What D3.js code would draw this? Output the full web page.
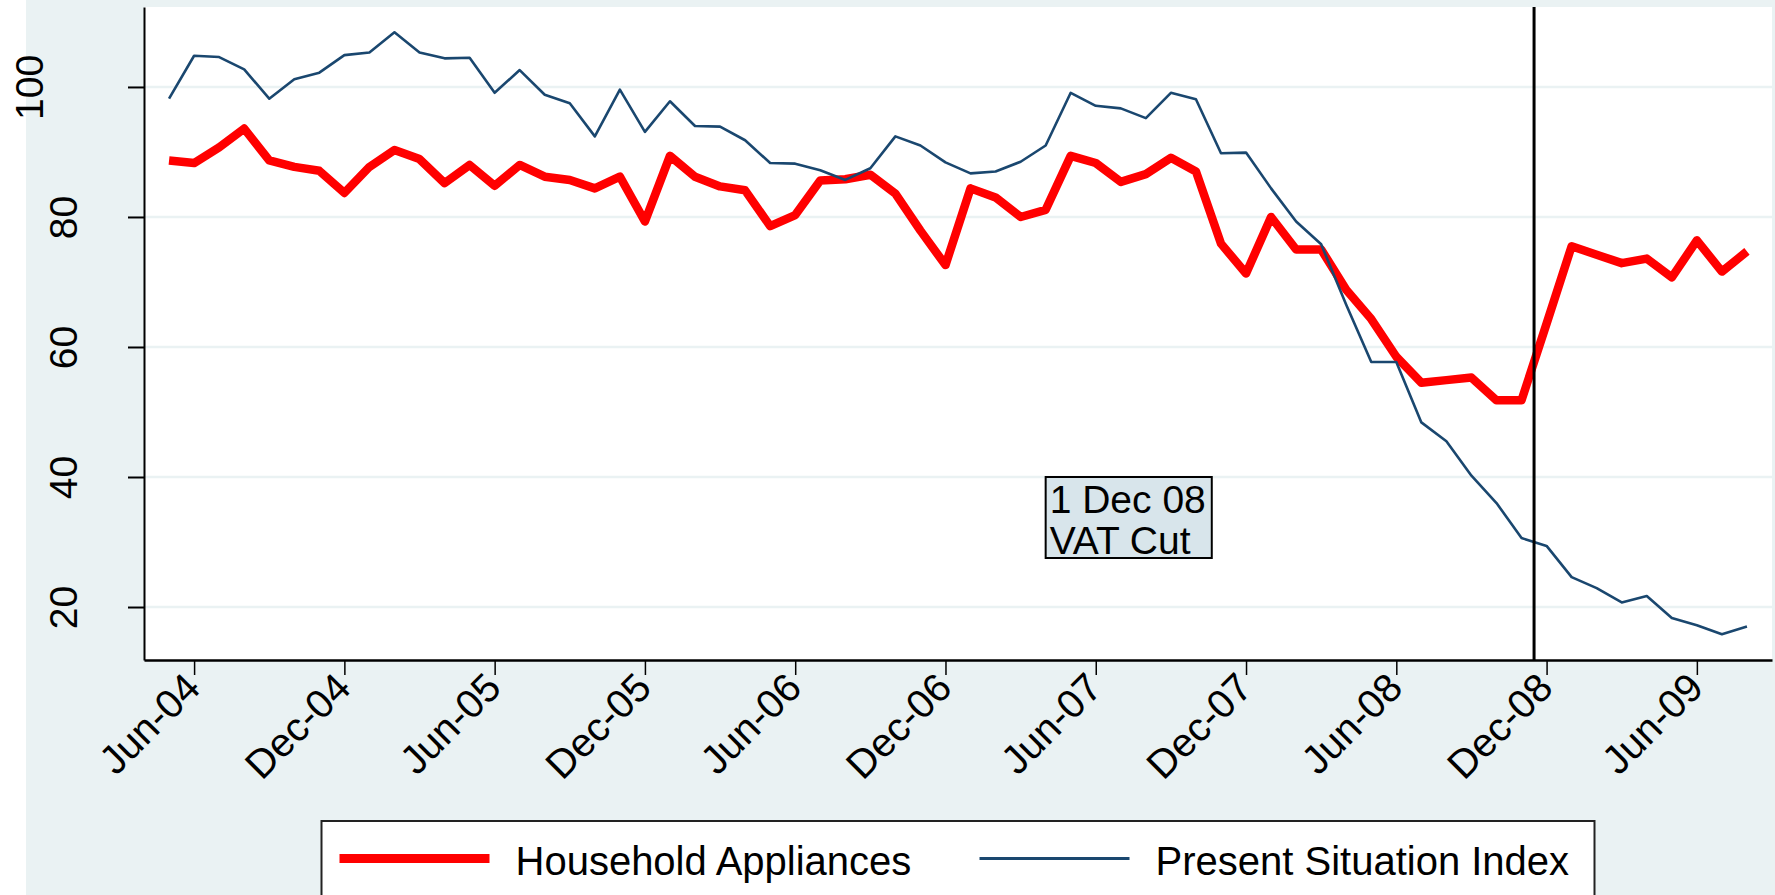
<!DOCTYPE html>
<html>
<head>
<meta charset="utf-8">
<script src="https://cdn.jsdelivr.net/npm/d3@7"></script>
<style>
  body { margin: 0; background: #fff; }
  text { font-family: "Liberation Sans", Arial, sans-serif; fill: #000; }
</style>
</head>
<body>
<div id="chart"></div>
<script>
let width = 1775, height = 895;

let months = [
    "May-04","Jun-04","Jul-04","Aug-04","Sep-04","Oct-04","Nov-04","Dec-04",
    "Jan-05","Feb-05","Mar-05","Apr-05","May-05","Jun-05","Jul-05","Aug-05","Sep-05","Oct-05","Nov-05","Dec-05",
    "Jan-06","Feb-06","Mar-06","Apr-06","May-06","Jun-06","Jul-06","Aug-06","Sep-06","Oct-06","Nov-06","Dec-06",
    "Jan-07","Feb-07","Mar-07","Apr-07","May-07","Jun-07","Jul-07","Aug-07","Sep-07","Oct-07","Nov-07","Dec-07",
    "Jan-08","Feb-08","Mar-08","Apr-08","May-08","Jun-08","Jul-08","Aug-08","Sep-08","Oct-08","Nov-08","Dec-08",
    "Jan-09","Feb-09","Mar-09","Apr-09","May-09","Jun-09","Jul-09","Aug-09"];

let tickLabels = ["Jun-04","Dec-04","Jun-05","Dec-05","Jun-06","Dec-06","Jun-07","Dec-07","Jun-08","Dec-08","Jun-09"];
let yTicks = [20, 40, 60, 80, 100];

let appliances = [
    88.7, 88.3, 90.7, 93.6, 88.7, 87.7, 87.1, 83.7, 87.7, 90.3, 88.9, 85.2, 88.0, 84.8, 88.0, 86.2,
    85.7, 84.4, 86.2, 79.3, 89.4, 86.2, 84.7, 84.1, 78.6, 80.3, 85.6, 85.8, 86.5, 83.6, 77.9, 72.6,
    84.4, 83.0, 80.0, 81.1, 89.4, 88.3, 85.4, 86.6, 89.1, 87.0, 75.9, 71.3, 80.0, 75.0, 75.0, 68.8,
    64.3, 58.5, 54.5, 54.9, 55.3, 51.8, 51.8, 63.6, 75.5, 74.2, 72.9, 73.6, 70.7, 76.4, 71.6, 74.7];

let presentSituation = [
    98.2, 104.8, 104.6, 102.7, 98.2, 101.2, 102.2, 104.9, 105.3, 108.4, 105.3, 104.4, 104.5, 99.1, 102.6, 98.8,
    97.5, 92.4, 99.6, 93.1, 97.8, 94.0, 93.9, 91.8, 88.3, 88.2, 87.2, 85.7, 87.5, 92.4, 91.0, 88.4,
    86.7, 87.0, 88.5, 91.0, 99.1, 97.1, 96.7, 95.2, 99.1, 98.1, 89.8, 89.9, 84.4, 79.3, 75.8, 66.5,
    57.7, 57.7, 48.4, 45.5, 40.2, 36.0, 30.6, 29.4, 24.6, 22.9, 20.7, 21.7, 18.3, 17.2, 15.8, 17.0];

let seriesNames = ["Household Appliances", "Present Situation Index"];
let seriesColors = ["#ff0000", "#1a476f"];

// VAT cut on 1 Dec 08 sits half a month before the Dec-08 observation
let vatCut = months.indexOf("Dec-08") - 0.5;
let noteMonth = "Apr-07", noteValue = 40, noteLines = ["1 Dec 08", "VAT Cut"];

let plot = {left: 144, right: 1772, top: 7, bottom: 660};

let x = d3.scaleLinear()
    .domain([-1, months.length])
    .range([plot.left, plot.right]);

let y = d3.scaleLinear()
    .domain([11.85, 112.3])
    .range([plot.bottom, plot.top]);

let svg = d3.select("#chart")
    .append("svg")
    .attr("width", width)
    .attr("height", height);

svg.append("rect")
    .attr("x", 26).attr("y", 0)
    .attr("width", width - 26).attr("height", height)
    .style("fill", "#eaf2f3");

svg.append("rect")
    .attr("x", plot.left).attr("y", plot.top)
    .attr("width", plot.right - plot.left).attr("height", plot.bottom - plot.top)
    .style("fill", "#fff");

svg.append("g")
    .attr("class", "grid")
    .selectAll("line")
    .data(yTicks)
    .enter().append("line")
    .attr("x1", plot.left).attr("x2", plot.right)
    .attr("y1", d => y(d)).attr("y2", d => y(d))
    .style("stroke", "#eaf2f3")
    .style("stroke-width", 2.5);

let line = d3.line()
    .x((d, i) => x(i))
    .y(d => y(d));

svg.append("path")
    .datum(appliances)
    .attr("d", line)
    .style("fill", "none")
    .style("stroke", seriesColors[0])
    .style("stroke-width", 8.5)
    .style("stroke-linejoin", "round");

svg.append("path")
    .datum(presentSituation)
    .attr("d", line)
    .style("fill", "none")
    .style("stroke", seriesColors[1])
    .style("stroke-width", 2.6)
    .style("stroke-linejoin", "round");

svg.append("line")
    .attr("x1", x(vatCut)).attr("x2", x(vatCut))
    .attr("y1", plot.top).attr("y2", plot.bottom)
    .style("stroke", "#000")
    .style("stroke-width", 3);

// note box
let note = svg.append("g")
    .attr("transform", `translate(${x(months.indexOf(noteMonth))},${y(noteValue)})`);
let noteRect = note.append("rect");
let noteText = note.selectAll("text")
    .data(noteLines)
    .enter().append("text")
    .attr("x", 4)
    .attr("y", (d, i) => 36 + i * 40.6)
    .style("font-size", "39px")
    .text(d => d);
let noteW = d3.max(noteText.nodes(), n => n.getComputedTextLength()) + 10;
noteRect
    .attr("width", noteW).attr("height", 81)
    .style("fill", "#d8e5eb")
    .style("stroke", "#000")
    .style("stroke-width", 2);

// y axis
let yAxis = svg.append("g")
    .attr("transform", `translate(${plot.left},0)`)
    .call(d3.axisLeft(y).tickValues(yTicks).tickSize(16).tickSizeOuter(0).tickFormat(d3.format("d")));
yAxis.select(".domain").style("stroke-width", 2);
yAxis.selectAll(".tick line").style("stroke-width", 2);
yAxis.selectAll(".tick text")
    .attr("transform", "rotate(-90)")
    .attr("x", 0)
    .attr("dy", 0)
    .attr("y", d => -(67 + (String(d).length - 2) * 34))
    .style("text-anchor", "middle")
    .style("font-size", "39px");

// x axis
let xAxis = svg.append("g")
    .attr("transform", `translate(0,${plot.bottom})`)
    .call(d3.axisBottom(x)
        .tickValues(tickLabels.map(m => months.indexOf(m)))
        .tickFormat(i => months[i])
        .tickSize(15).tickSizeOuter(0));
xAxis.select(".domain").style("stroke-width", 2.5);
xAxis.selectAll(".tick line").style("stroke-width", 1.5);
xAxis.selectAll(".tick text")
    .attr("x", 0).attr("y", 0).attr("dy", 0)
    .attr("transform", "translate(8,30) rotate(-45)")
    .style("text-anchor", "end")
    .style("font-size", "40px");

// legend
let legendW = 1273;
let legend = svg.append("g")
    .attr("transform", `translate(${(plot.left + plot.right) / 2 - legendW / 2},821)`);
legend.append("rect")
    .attr("width", legendW).attr("height", 120)
    .style("fill", "#fff")
    .style("stroke", "#222")
    .style("stroke-width", 2);
let items = legend.selectAll(".item")
    .data(seriesNames)
    .enter().append("g")
    .attr("class", "item")
    .attr("transform", (d, i) => `translate(${[18, 658][i]},0)`);
items.append("line")
    .attr("x1", 0).attr("x2", 150)
    .attr("y1", 37.5).attr("y2", 37.5)
    .style("stroke", (d, i) => seriesColors[i])
    .style("stroke-width", (d, i) => i == 0 ? 9 : 3.2);
items.append("text")
    .attr("x", 176).attr("y", 54)
    .style("font-size", "40px")
    .text(d => d);
</script>
</body>
</html>
